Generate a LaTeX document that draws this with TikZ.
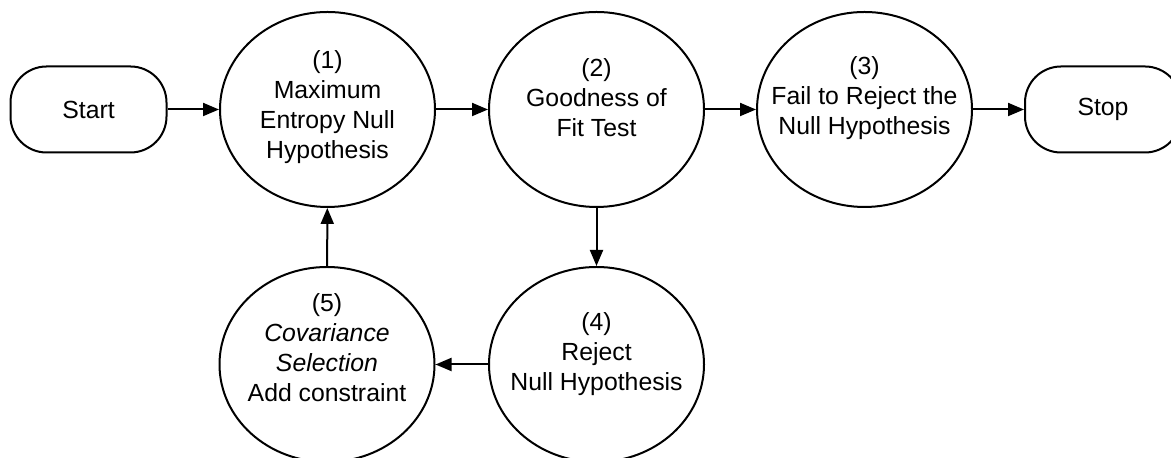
\documentclass[tikz,border=0pt]{standalone}
\usepackage{fontspec}
\setmainfont{Liberation Sans}
\usetikzlibrary{arrows.meta,shapes.geometric}

\begin{document}
\begin{tikzpicture}[x=0.5pt,y=0.5pt,font=\fontsize{12.4pt}{15pt}\selectfont,
    line width=1pt,
    stage/.style={draw,ellipse,minimum width=107.5pt,minimum height=97.5pt,inner sep=0pt},
    term/.style={draw,rectangle,rounded corners=18pt,minimum width=78pt,minimum height=43pt},
    txt/.style={align=center,inner sep=0pt},
    flow/.style={-{Triangle[length=8pt,width=6.5pt]}}]
  \useasboundingbox (0,0) rectangle (1171,458);
  \node[term] (start) at (88.5,348.5) {Start};
  \node[stage,label={[txt,yshift=1pt]center:(1)\\Maximum\\Entropy Null\\Hypothesis}]
    (maxent) at (327.5,348.5) {};
  \node[stage,label={[txt,yshift=6pt]center:(2)\\Goodness of\\Fit Test}]
    (gof) at (596.5,348.5) {};
  \node[stage,label={[txt,yshift=5.5pt]center:(3)\\Fail to Reject the\\Null Hypothesis}]
    (accept) at (864.5,348.5) {};
  \node[term] (stop) at (1103,348.5) {Stop};
  \node[stage,label={[txt,yshift=5pt]center:(4)\\Reject\\Null Hypothesis}]
    (reject) at (596.5,93.5) {};
  \node[stage,label={[txt,yshift=8.5pt]center:(5)\\\textit{Covariance}\\\textit{Selection}\\Add constraint}]
    (covsel) at (327,93.5) {};
  % main line
  \draw[flow] (start) -- (maxent);
  \draw[flow] (maxent) -- (gof);
  \draw[flow] (gof) -- (accept);
  \draw[flow] (accept) -- (stop);
  % loop back
  \draw[flow] (gof) -- (reject);
  \draw[flow] (reject) -- (covsel);
  \draw[flow] (covsel) -- (maxent);
\end{tikzpicture}
\end{document}
